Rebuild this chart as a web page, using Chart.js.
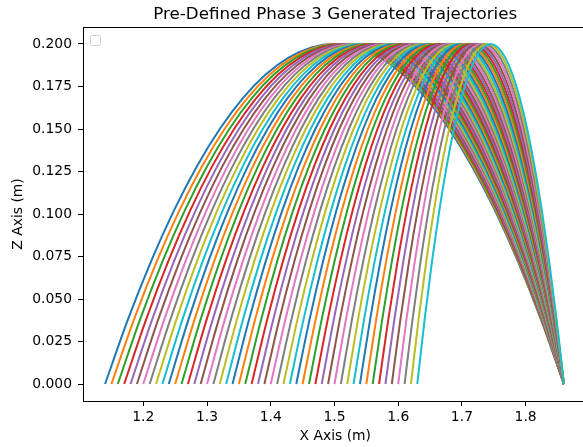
<!DOCTYPE html>
<html>
<head>
<meta charset="utf-8">
<script src="https://cdn.jsdelivr.net/npm/chart.js@4.4.0/dist/chart.umd.min.js"></script>
<style>
  html, body { margin: 0; padding: 0; background: #fff; overflow: hidden; }
  #wrap { width: 583px; height: 447px; }
</style>
</head>
<body>
<div id="wrap"><canvas id="trajChart" width="583" height="447"></canvas></div>
<script>
// start x of every trajectory
const xStarts = [
  1.14, 1.15, 1.16, 1.17, 1.18, 1.19, 1.20, 1.21, 1.22, 1.23,
  1.24, 1.25, 1.26, 1.27, 1.28, 1.29, 1.30, 1.31, 1.32, 1.33,
  1.34, 1.35, 1.36, 1.37, 1.38, 1.39, 1.40, 1.41, 1.42, 1.43,
  1.44, 1.45, 1.46, 1.47, 1.48, 1.49, 1.50, 1.51, 1.52, 1.53,
  1.54, 1.55, 1.56, 1.57, 1.58, 1.59, 1.60, 1.61, 1.62, 1.63
];
// all trajectories land here
const xEnd = 1.86;
// height profile along a trajectory (fraction of the way, z in m)
const profileS = [0, 0.05, 0.1, 0.15, 0.2, 0.25, 0.3, 0.35, 0.4, 0.45, 0.5,
                  0.55, 0.6, 0.65, 0.7, 0.75, 0.8, 0.85, 0.9, 0.95, 1];
const profileZ = [0, 0.038, 0.072, 0.102, 0.128, 0.150, 0.168, 0.182, 0.192, 0.198, 0.200,
                  0.198, 0.192, 0.182, 0.168, 0.150, 0.128, 0.102, 0.072, 0.038, 0];
const xTicks = [1.2, 1.3, 1.4, 1.5, 1.6, 1.7, 1.8];
const yTicks = [0, 0.025, 0.05, 0.075, 0.1, 0.125, 0.15, 0.175, 0.2];

const palette = ['#1f77b4', '#ff7f0e', '#2ca02c', '#d62728', '#9467bd',
                 '#8c564b', '#e377c2', '#7f7f7f', '#bcbd22', '#17becf'];
const FONT = 'DejaVu Sans';

const datasets = xStarts.map((x0, i) => ({
  label: 'traj ' + i,
  data: profileS.map((s, k) => ({ x: x0 + s * (xEnd - x0), y: profileZ[k] })),
  borderColor: palette[i % 10],
  borderWidth: 2,
  pointRadius: 0,
  tension: 0.4,
  cubicInterpolationMode: 'monotone',
  fill: false,
  order: xStarts.length - 1 - i   // later curves on top, like matplotlib
}));

// title, axis labels, top spine and the empty legend frame
const decorations = {
  id: 'decorations',
  afterDraw(chart) {
    const { ctx, chartArea } = chart;
    const axesRight = 587.5;
    const cx = (chartArea.left + axesRight) / 2;
    ctx.save();
    ctx.strokeStyle = '#000';
    ctx.lineWidth = 1;
    ctx.beginPath();
    ctx.moveTo(chartArea.left, chartArea.top + 0.5);
    ctx.lineTo(chartArea.right, chartArea.top + 0.5);
    ctx.stroke();

    ctx.fillStyle = '#000';
    ctx.textAlign = 'center';
    ctx.textBaseline = 'alphabetic';
    ctx.font = '16.7px "' + FONT + '"';
    ctx.fillText('Pre-Defined Phase 3 Generated Trajectories', cx, 19);

    ctx.font = '13.9px "' + FONT + '"';
    ctx.textBaseline = 'middle';
    ctx.fillText('X Axis (m)', cx, 436);

    ctx.translate(18, (chartArea.top + chartArea.bottom) / 2);
    ctx.rotate(-Math.PI / 2);
    ctx.fillText('Z Axis (m)', 0, 0);
    ctx.restore();

    ctx.save();
    ctx.strokeStyle = '#d0d0d0';
    ctx.fillStyle = 'rgba(255,255,255,0.8)';
    ctx.lineWidth = 1;
    ctx.beginPath();
    ctx.roundRect(90.5, 35.5, 10, 10, 2);
    ctx.fill();
    ctx.stroke();
    ctx.restore();
  }
};

new Chart(document.getElementById('trajChart').getContext('2d'), {
  type: 'line',
  data: { datasets: datasets },
  options: {
    responsive: false,
    animation: false,
    events: [],
    layout: { padding: { top: 27, right: 0, left: 0, bottom: 0 } },
    plugins: { legend: { display: false }, title: { display: false }, tooltip: { enabled: false } },
    scales: {
      x: {
        type: 'linear',
        min: 1.1054,
        max: 1.890,
        afterBuildTicks: (scale) => { scale.ticks = xTicks.map(v => ({ value: v })); },
        afterFit: (scale) => { scale.height = 46; },
        ticks: {
          color: '#000',
          font: { family: FONT, size: 13.9 },
          padding: 3,
          maxRotation: 0,
          autoSkip: false,
          callback: (v) => v.toFixed(1)
        },
        grid: { drawOnChartArea: false, drawTicks: true, tickLength: 5, color: '#000', lineWidth: 1 },
        border: { display: true, color: '#000', width: 1 }
      },
      y: {
        type: 'linear',
        min: -0.01,
        max: 0.21,
        afterBuildTicks: (scale) => { scale.ticks = yTicks.map(v => ({ value: v })); },
        afterFit: (scale) => { scale.width = 83; },
        ticks: {
          color: '#000',
          font: { family: FONT, size: 13.9 },
          padding: 6,
          autoSkip: false,
          callback: (v) => v.toFixed(3)
        },
        grid: { drawOnChartArea: false, drawTicks: true, tickLength: 5, color: '#000', lineWidth: 1 },
        border: { display: true, color: '#000', width: 1 }
      }
    }
  },
  plugins: [decorations]
});
</script>
</body>
</html>
